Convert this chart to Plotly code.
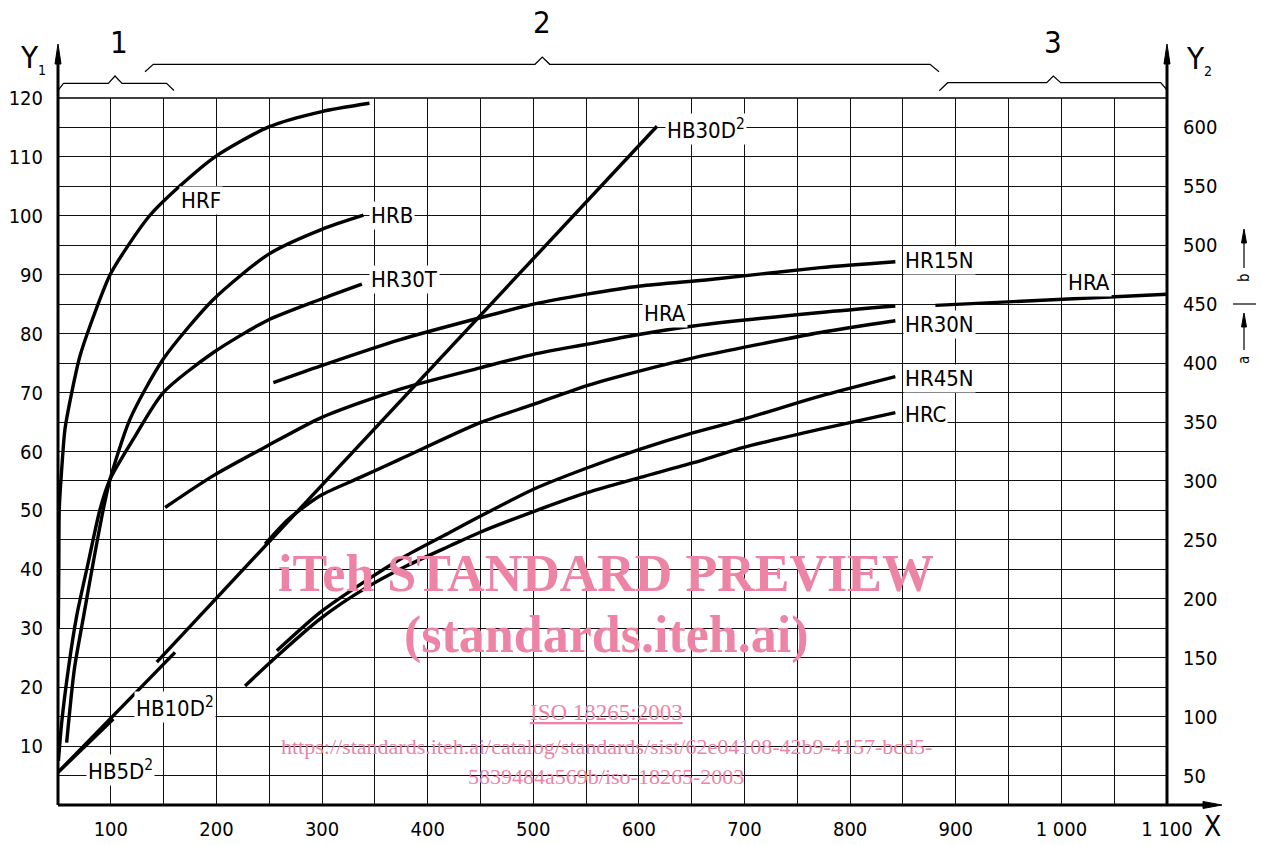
import plotly.graph_objects as go

# ---------------- data ----------------
# Rockwell-type scales, read against the left axis (Y1)
hrf_x = [50.3, 50.8, 51.2, 53.5, 56.6, 63.0, 70.8, 80.3, 99.3, 117.3, 137.1, 165.6, 199.4, 249.6, 299.8, 344.9]
hrf_y = [30.0, 41.2, 50.2, 57.0, 63.8, 70.0, 76.2, 81.3, 90.0, 95.2, 100.1, 105.1, 110.1, 115.1, 117.7, 119.1]

hrb_x = [58.2, 65.5, 74.3, 83.4, 92.9, 99.3, 118.2, 149.7, 197.1, 249.6, 299.8, 339.2]
hrb_y = [10.6, 23.1, 32.1, 41.2, 50.2, 55.3, 65.5, 75.7, 85.8, 93.5, 97.7, 100.1]

hr30t_x = [50.4, 53.5, 59.8, 67.7, 78.7, 89.8, 99.3, 121.3, 149.7, 197.1, 247.7, 298.2, 337.7]
hr30t_y = [7.5, 14.0, 23.1, 32.1, 41.2, 50.2, 55.3, 62.1, 70.0, 76.8, 82.2, 85.8, 88.4]

hr15n_x = [253.9, 298.2, 374.0, 449.7, 500.2, 550.8, 601.3, 667.6, 771.8, 842.8]
hr15n_y = [71.7, 74.5, 79.0, 82.7, 85.0, 86.7, 88.1, 89.2, 91.2, 92.2]

hra_x = [151.4, 197.1, 247.7, 299.8, 374.0, 449.7, 500.2, 550.8, 601.3, 651.8, 771.8, 842.8]
hra_y = [50.5, 55.9, 60.9, 65.8, 70.6, 74.2, 76.5, 78.2, 79.9, 81.3, 83.6, 84.7]
hra_ext_x = [880.7, 1100.0]
hra_ext_y = [84.8, 86.7]

hr30n_x = [246.1, 268.1, 298.2, 336.1, 374.0, 449.7, 500.2, 550.8, 601.3, 651.8, 771.8, 842.8]
hr30n_y = [44.3, 48.5, 52.5, 55.6, 58.7, 64.9, 68.0, 71.2, 73.7, 75.9, 80.2, 82.2]

hr45n_x = [257.2, 298.2, 339.2, 380.3, 421.3, 449.7, 500.2, 550.8, 601.3, 651.8, 699.2, 771.8, 842.8]
hr45n_y = [26.2, 32.7, 37.8, 42.4, 46.3, 49.0, 53.6, 57.2, 60.4, 63.2, 65.5, 69.4, 72.7]

hrc_x = [227.1, 250.8, 298.2, 339.2, 380.3, 421.3, 449.7, 500.2, 550.8, 601.3, 651.8, 699.2, 771.8, 842.8]
hrc_y = [20.2, 24.2, 31.6, 36.6, 40.6, 44.0, 46.3, 49.8, 53.0, 55.6, 58.1, 60.7, 63.8, 66.6]

# Brinell scales, read against the right axis (Y2)
hb5_x = [50.0, 102.4]
hb5_y = [52.7, 98.0]
hb10_x = [50.0, 160.8]
hb10_y = [52.7, 154.5]
hb30_x = [143.5, 617.1]
hb30_y = [146.3, 601.0]

# ticks
x_ticks = list(range(50, 1101, 50))
x_tick_labels = ["" if v % 100 else ("{:,}".format(v).replace(",", " ")) for v in x_ticks]
y1_ticks = list(range(0, 121, 5))
y1_tick_labels = [str(v) if (v % 10 == 0 and v > 0) else "" for v in y1_ticks]
y2_ticks = list(range(50, 601, 50))
y2_tick_labels = [str(v) for v in y2_ticks]

# ---------------- styling ----------------
FONT = "DejaVu Sans Condensed, Liberation Sans Narrow, DejaVu Sans, sans-serif"
SERIF = "Liberation Serif, Times New Roman, serif"
PINK = "#ED84A5"
LW = 3.4
W, H = 1261, 845
ML, MR, MT, MB = 58, 94, 98, 40
PW, PH = W - ML - MR, H - MT - MB


def px(x):
    return (x - ML) / PW


def py(y):
    return (H - MB - y) / PH


def path(points, close=False):
    s = "M " + " L ".join(f"{px(a):.5f},{py(b):.5f}" for a, b in points)
    return s + (" Z" if close else "")


fig = go.Figure()

curves = [
    (hrf_x, hrf_y), (hrb_x, hrb_y), (hr30t_x, hr30t_y), (hr15n_x, hr15n_y),
    (hra_x, hra_y), (hra_ext_x, hra_ext_y), (hr30n_x, hr30n_y),
    (hr45n_x, hr45n_y), (hrc_x, hrc_y),
]
for cx, cy in curves:
    fig.add_trace(go.Scatter(
        x=cx, y=cy, mode="lines", yaxis="y",
        line=dict(color="black", width=LW, shape="spline", smoothing=0.7),
        hoverinfo="skip", showlegend=False))

for cx, cy in [(hb5_x, hb5_y), (hb10_x, hb10_y), (hb30_x, hb30_y)]:
    fig.add_trace(go.Scatter(
        x=cx, y=cy, mode="lines", yaxis="y2",
        line=dict(color="black", width=LW),
        hoverinfo="skip", showlegend=False))

shapes = []
thick = dict(color="black", width=3)
thin = dict(color="black", width=1.2)


def add_path(points, line, close=False, fill=None):
    d = dict(type="path", xref="paper", yref="paper", path=path(points, close), line=line,
             layer="above")
    if fill:
        d["fillcolor"] = fill
    shapes.append(d)


# axes with arrow heads
add_path([(ML, 805), (1205, 805)], thick)
add_path([(1203, 801.5), (1222, 805), (1203, 808.5)], dict(color="black", width=1), True, "black")
for ax_x in (ML, ML + PW):
    add_path([(ax_x, 805), (ax_x, 62)], thick)
    add_path([(ax_x - 3, 64), (ax_x, 44), (ax_x + 3, 64)], dict(color="black", width=1), True, "black")
# top border of the grid
add_path([(ML, 98), (ML + PW, 98)], dict(color="black", width=1.3))

# range braces
add_path([(58, 90.5), (63.5, 83.3), (108.3, 83.3), (115, 76), (122, 83.3), (166.5, 83.3), (174, 90.5)], thin)
add_path([(145, 71.7), (153.3, 64.3), (535, 64.3), (542.3, 57), (549.7, 64.3), (930, 64.3), (939, 71.7)], thin)
add_path([(939.3, 90.7), (947.7, 82.7), (1046.7, 82.7), (1053.3, 76), (1060.7, 82.7), (1160.7, 82.7),
          (1167, 90)], thin)

# a / b range markers at the right
add_path([(1244, 268), (1244, 240)], thin)
add_path([(1241.5, 243), (1244, 229), (1246.5, 243)], dict(color="black", width=1), True, "black")
add_path([(1233, 304), (1256, 304)], thin)
add_path([(1244, 350), (1244, 326)], thin)
add_path([(1241.5, 327), (1244, 313), (1246.5, 327)], dict(color="black", width=1), True, "black")

annotations = []


def ptext(text, x, y, size, **kw):
    annotations.append(dict(text=text, x=px(x), y=py(y), xref="paper", yref="paper",
                            xanchor="center", yanchor="middle",
                            showarrow=False, font=dict(family=kw.pop("family", FONT), size=size,
                                                       color=kw.pop("color", "black")), **kw))


ptext("1", 119, 42, 31)
ptext("2", 542, 22, 31)
ptext("3", 1053, 42, 31)
ptext('Y<sub><span style="font-size:14px">1</span></sub>', 33, 58, 31)
ptext('Y<sub><span style="font-size:14px">2</span></sub>', 1199, 60, 31)
ptext("X", 1212, 826, 28)
ptext("b", 1244, 278, 15, textangle=-90)
ptext("a", 1244, 360, 15, textangle=-90)


def label(text, x, y, anchor="center", yref="y"):
    annotations.append(dict(text=text, x=x, y=y, xref="x", yref=yref, xanchor=anchor,
                            yanchor="middle", showarrow=False, bgcolor="white", borderpad=1,
                            font=dict(family=FONT, size=22, color="black")))


label("HRF", 185.5, 102.6)
label("HRB", 344.6, 100.1, "left")
label("HR30T", 344.6, 89.2, "left")
label("HB30D<sup>2</sup>", 625.0, 114.8, "left")
label("HR15N", 850.4, 92.4, "left")
label("HRA", 625.0, 83.5)
label("HRA", 1025.7, 88.7)
label("HR30N", 850.4, 81.6, "left")
label("HR45N", 850.4, 72.4, "left")
label("HRC", 850.4, 66.3, "left")
label("HB10D<sup>2</sup>", 160.8, 16.6)
label("HB5D<sup>2</sup>", 108.7, 5.9)

# watermark
ptext("<b>iTeh STANDARD PREVIEW</b>", 606, 573, 52, family=SERIF, color=PINK)
ptext("<b>(standards.iteh.ai)</b>", 606, 635, 52, family=SERIF, color=PINK)
ptext('<span style="text-decoration:underline">ISO 18265:2003</span>', 606, 712, 23, family=SERIF, color=PINK)
ptext("https://standards.iteh.ai/catalog/standards/sist/62e04108-42b9-4157-bcd5-", 606, 746, 22,
      family=SERIF, color=PINK)
ptext("5839484a569b/iso-18265-2003", 606, 776, 22, family=SERIF, color=PINK)

grid = dict(showgrid=True, gridcolor="#111111", gridwidth=1.3, zeroline=False, showline=False, ticks="",
            automargin=False)
fig.update_layout(
    template="none",
    width=W, height=H,
    margin=dict(l=ML, r=MR, t=MT, b=MB, autoexpand=False),
    paper_bgcolor="white", plot_bgcolor="white",
    showlegend=False,
    xaxis=dict(range=[50, 1100], tickmode="array", tickvals=x_ticks, ticktext=x_tick_labels,
               tickfont=dict(family=FONT, size=20, color="black"), ticklabelstandoff=10, **grid),
    yaxis=dict(range=[0, 120], tickmode="array", tickvals=y1_ticks, ticktext=y1_tick_labels,
               tickfont=dict(family=FONT, size=20, color="black"), ticklabelstandoff=14, **grid),
    yaxis2=dict(range=[25, 625], overlaying="y", side="right", tickmode="array",
                tickvals=y2_ticks, ticktext=y2_tick_labels, showgrid=False, zeroline=False,
                showline=False, ticks="", ticklabelstandoff=15, automargin=False,
                tickfont=dict(family=FONT, size=20, color="black")),
    shapes=shapes,
    annotations=annotations,
)

fig.write_html("out.html")
